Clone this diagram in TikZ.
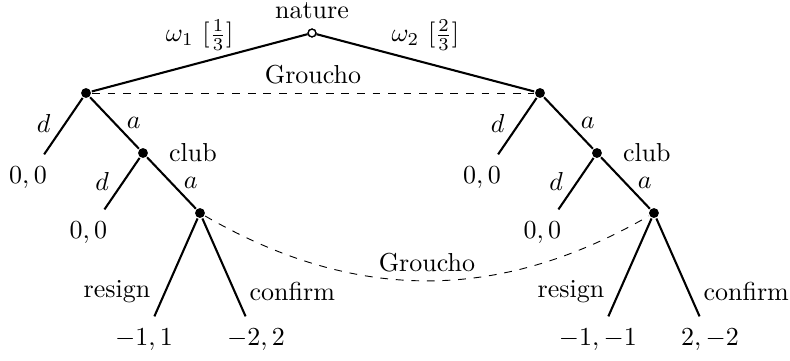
\documentclass[tikz,border=0pt]{standalone}
\usepackage{amsmath,amssymb}
\usetikzlibrary{positioning}

\tikzset{
  chance/.style={circle, draw, fill=white, inner sep=0pt, minimum size=3pt, line width=0.5pt},
  decision/.style={circle, fill=black, inner sep=0pt, minimum size=3.8pt},
  payoff/.style={inner sep=4.5pt},
  infoset/.style={dashed, line width=0.35pt}
}

\begin{document}
\begin{tikzpicture}[on grid, line width=0.8pt]
  \useasboundingbox (-4.222,-4.425) rectangle (6.468,0.4465);
  % nature and Groucho
  \node[chance, label=above:nature] (nat) {};
  \node[decision] (g1) [below left=0.812cm and 3.058cm of nat] {};
  \node[decision] (g2) [below right=0.812cm and 3.085cm of nat] {};
  % left branch
  \node[payoff] (l1) [below left=1.150cm and 0.785cm of g1] {$0,0$};
  \node[decision, label={[label distance=4pt]right:club}] (c1) [below right=0.812cm and 0.771cm of g1] {};
  \node[payoff] (l2) [below left=1.083cm and 0.740cm of c1] {$0,0$};
  \node[decision] (r1) [below right=0.812cm and 0.771cm of c1] {};
  \node[payoff] (l3) [below left=1.718cm and 0.758cm of r1] {$-1,1$};
  \node[payoff] (l4) [below right=1.718cm and 0.758cm of r1] {$-2,2$};
  % right branch
  \node[payoff] (m1) [below left=1.150cm and 0.785cm of g2] {$0,0$};
  \node[decision, label={[label distance=4pt]right:club}] (c2) [below right=0.812cm and 0.771cm of g2] {};
  \node[payoff] (m2) [below left=1.083cm and 0.740cm of c2] {$0,0$};
  \node[decision] (r2) [below right=0.812cm and 0.771cm of c2] {};
  \node[payoff] (m3) [below left=1.718cm and 0.758cm of r2] {$-1,-1$};
  \node[payoff] (m4) [below right=1.718cm and 0.758cm of r2] {$2,-2$};

  \path
  (nat) edge node[above=1pt] {$\omega_1\ [\frac{1}{3}]$} (g1)
        edge node[above=1pt] {$\omega_2\ [\frac{2}{3}]$} (g2)
  (g1) edge node[pos=0.45, left=2pt] {$d$} (l1)
       edge node[right=1pt] {$a$} (c1)
  (c1) edge node[pos=0.45, left=2pt] {$d$} (l2)
       edge node[right=1pt] {$a$} (r1)
  (r1) edge node[pos=0.75, left=2pt] {resign} (l3)
       edge node[pos=0.75, right=2pt] {confirm} (l4)
  (g2) edge node[pos=0.45, left=2pt] {$d$} (m1)
       edge node[right=1pt] {$a$} (c2)
  (c2) edge node[pos=0.45, left=2pt] {$d$} (m2)
       edge node[right=1pt] {$a$} (r2)
  (r2) edge node[pos=0.75, left=2pt] {resign} (m3)
       edge node[pos=0.75, right=2pt] {confirm} (m4);

  % information sets
  \draw[infoset] (g1) -- node[above] {Groucho} (g2);
  \draw[infoset] (r1) to[bend right=30] node[above] {Groucho} (r2);
  \node[chance] at (nat) {};
\end{tikzpicture}
\end{document}
